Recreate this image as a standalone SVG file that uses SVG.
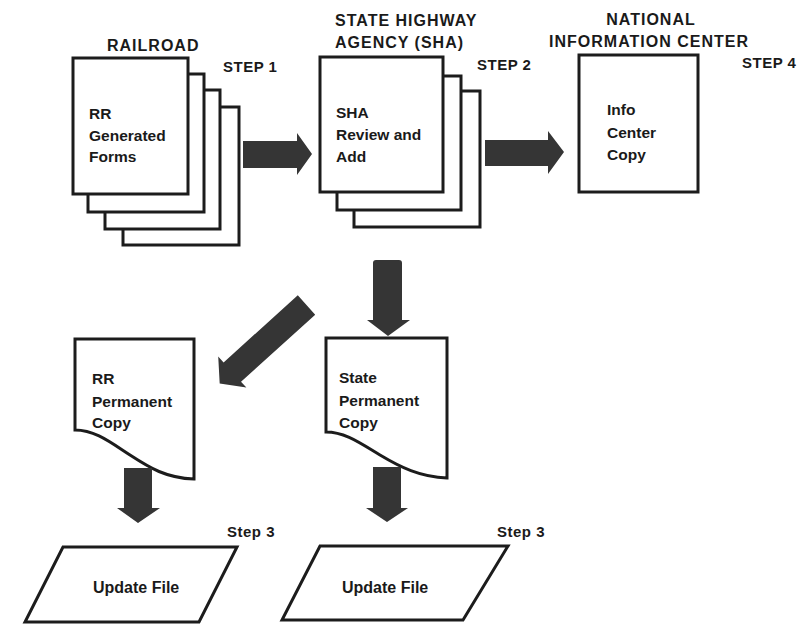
<svg xmlns="http://www.w3.org/2000/svg" width="801" height="624" viewBox="0 0 801 624">
<style>
.pg{fill:#fff;stroke:#1c1c1c;stroke-width:3;stroke-linejoin:miter}
.ar{fill:#353535;stroke:none}
.hd{font-family:"Liberation Sans",Arial,sans-serif;font-weight:bold;font-size:16px;letter-spacing:1px;fill:#1a1a1a}
.st{font-family:"Liberation Sans",Arial,sans-serif;font-weight:bold;font-size:15px;letter-spacing:0.5px;fill:#1a1a1a}
.tx{font-family:"Liberation Sans",Arial,sans-serif;font-weight:bold;font-size:15.5px;fill:#1a1a1a}
.uf{font-family:"Liberation Sans",Arial,sans-serif;font-weight:bold;font-size:16px;fill:#1a1a1a}
</style>
<rect x="0" y="0" width="801" height="624" fill="#fff"/>

<g id="railroad">
  <text class="hd" x="107" y="51">RAILROAD</text>
  <text class="st" x="223" y="72">STEP 1</text>
  <rect class="pg" x="123" y="107" width="116" height="138"/>
  <rect class="pg" x="105" y="90" width="115" height="139"/>
  <rect class="pg" x="88" y="74" width="116" height="138"/>
  <rect class="pg" x="73" y="58" width="115" height="136"/>
  <text class="tx" x="89" y="119">RR</text>
  <text class="tx" x="89" y="140.5">Generated</text>
  <text class="tx" x="89" y="162">Forms</text>
</g>

<g id="sha">
  <text class="hd" x="335" y="26">STATE HIGHWAY</text>
  <text class="hd" x="335" y="48">AGENCY (SHA)</text>
  <text class="st" x="477" y="70">STEP 2</text>
  <rect class="pg" x="354" y="91" width="126" height="136"/>
  <rect class="pg" x="337" y="76" width="124" height="134"/>
  <rect class="pg" x="320" y="57" width="123" height="135"/>
  <text class="tx" x="336" y="117.5">SHA</text>
  <text class="tx" x="336" y="140">Review and</text>
  <text class="tx" x="336" y="162">Add</text>
</g>

<g id="info-center">
  <text class="hd" x="651" y="25" text-anchor="middle">NATIONAL</text>
  <text class="hd" x="649" y="47" text-anchor="middle">INFORMATION CENTER</text>
  <text class="st" x="742" y="68">STEP 4</text>
  <rect class="pg" x="579" y="55" width="119" height="137"/>
  <text class="tx" x="607" y="115">Info</text>
  <text class="tx" x="607" y="137.5">Center</text>
  <text class="tx" x="607" y="160">Copy</text>
</g>

<g id="rr-permanent-copy">
  <path class="pg" d="M75,339 H194 V479 C166,478 150,468 130,455 S95,430 75,430 Z"/>
  <text class="tx" x="92" y="384">RR</text>
  <text class="tx" x="92" y="406.5">Permanent</text>
  <text class="tx" x="92" y="428">Copy</text>
</g>

<g id="state-permanent-copy">
  <path class="pg" d="M326,338 H447 V478 C420,477 400,467 380,455 S345,432 326,432 Z"/>
  <text class="tx" x="339" y="383">State</text>
  <text class="tx" x="339" y="405.5">Permanent</text>
  <text class="tx" x="339" y="428">Copy</text>
</g>

<g id="update-file-rr">
  <text class="st" x="227" y="537">Step 3</text>
  <path class="pg" d="M63,547 H237 L199,622 H25 Z"/>
  <text class="uf" x="93" y="593">Update File</text>
</g>

<g id="update-file-state">
  <text class="st" x="497" y="537">Step 3</text>
  <path class="pg" d="M320,546 H508 L463,620 H282 Z"/>
  <text class="uf" x="342" y="593">Update File</text>
</g>

<g id="connectors">
  <path class="ar" d="M243,141 H297 V133 L312,154 L297,175 V168 H243 Z"/>
  <path class="ar" d="M485,140 H548 V131 L564,152 L548,174 V166 H485 Z"/>
  <path class="ar" d="M373,263 Q373,260 376,260 H399 Q402,260 402,263 V320 H410 L388,336 L367,320 H373 Z"/>
  <path class="ar" transform="translate(306.5,305) rotate(137.9)" d="M0,-13 H100 V-21 L117,0 L100,21 V13 H0 Z"/>
  <path class="ar" d="M124,468 H152 V508 H160 L138,523 L117,508 H124 Z"/>
  <path class="ar" d="M373,467 H401 V508 H408 L387,522 L366,508 H373 Z"/>
</g>
</svg>
